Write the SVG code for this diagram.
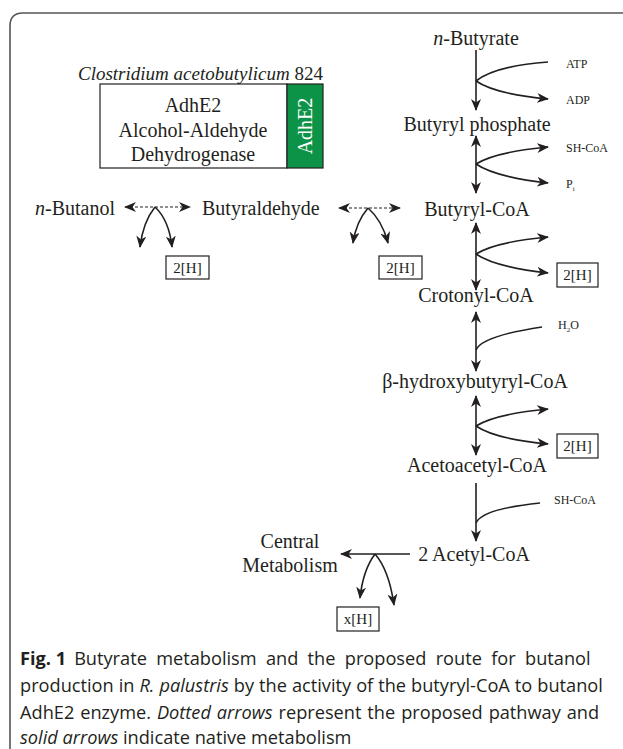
<svg xmlns="http://www.w3.org/2000/svg" width="623" height="749" viewBox="0 0 623 749">
<style>
.t{font-family:"Liberation Serif","Times New Roman",serif;fill:#231f20}
.l{font-size:20px}
.s{font-size:12px}
.c{stroke:#231f20;stroke-width:1.6;fill:none}
.d{stroke:#231f20;stroke-width:1.2;fill:none;stroke-dasharray:3 2}
.box{fill:#fff;stroke:#231f20;stroke-width:1.2}
.cap{font-family:"Open Sans","Noto Sans",sans-serif;font-size:18.2px;fill:#231f20}
</style>
<defs>
<marker id="a" viewBox="0 0 12 10" refX="11" refY="5" markerWidth="12" markerHeight="10" markerUnits="userSpaceOnUse" orient="auto-start-reverse">
<path d="M0,0 L12,5 L0,10 L3.5,5 z" fill="#231f20"/>
</marker>
</defs>
<rect width="623" height="749" fill="#fff"/>
<path d="M10,749 L10,26 Q10,13 23,13 L623,13" fill="none" stroke="#555" stroke-width="1.6"/>

<g id="enzyme">
<text class="t" font-size="19" x="78" y="80"><tspan font-style="italic">Clostridium acetobutylicum</tspan> 824</text>
<rect x="100" y="84" width="187" height="84" class="box"/>
<rect x="287" y="84" width="36" height="84" fill="#0d9347" stroke="#231f20" stroke-width="1.2"/>
<text class="t l" x="193" y="112" text-anchor="middle">AdhE2</text>
<text class="t l" x="193" y="137" text-anchor="middle">Alcohol-Aldehyde</text>
<text class="t l" x="193" y="161" text-anchor="middle">Dehydrogenase</text>
<text class="t l" x="0" y="0" text-anchor="middle" style="fill:#fff" transform="translate(312,126) rotate(-90)">AdhE2</text>
</g>

<g id="butanol"><text class="t l" x="35" y="215"><tspan font-style="italic">n</tspan>-Butanol</text></g>
<g id="butyraldehyde"><text class="t l" x="202" y="215">Butyraldehyde</text></g>
<g id="h1"><rect x="166" y="256" width="43" height="23" class="box"/><text class="t" font-size="15" x="187.5" y="273" text-anchor="middle">2[H]</text></g>
<g id="h2"><rect x="379" y="256" width="43" height="23" class="box"/><text class="t" font-size="15" x="400.5" y="273" text-anchor="middle">2[H]</text></g>

<g id="butyrate"><text class="t l" x="476" y="45" text-anchor="middle"><tspan font-style="italic">n</tspan>-Butyrate</text></g>
<g id="atp"><text class="t s" x="566" y="68">ATP</text></g>
<g id="adp"><text class="t s" x="566" y="104">ADP</text></g>
<g id="butyrylp"><text class="t l" x="477" y="131" text-anchor="middle">Butyryl phosphate</text></g>
<g id="shcoa1"><text class="t s" x="566" y="152">SH-CoA</text></g>
<g id="pi"><text class="t s" x="566" y="188">P<tspan font-size="7" dy="3">i</tspan></text></g>
<g id="butyrylcoa"><text class="t l" x="477" y="216" text-anchor="middle">Butyryl-CoA</text></g>
<g id="h3"><rect x="557" y="263" width="41" height="24" class="box"/><text class="t" font-size="15" x="577.5" y="280" text-anchor="middle">2[H]</text></g>
<g id="crotonyl"><text class="t l" x="476" y="302" text-anchor="middle">Crotonyl-CoA</text></g>
<g id="h2o"><text class="t s" x="558" y="329">H<tspan font-size="7" dy="3">2</tspan><tspan dy="-3">O</tspan></text></g>
<g id="hydroxy"><text class="t l" x="475" y="388" text-anchor="middle">β-hydroxybutyryl-CoA</text></g>
<g id="h4"><rect x="557" y="434" width="41" height="24" class="box"/><text class="t" font-size="15" x="577.5" y="451" text-anchor="middle">2[H]</text></g>
<g id="acetoacetyl"><text class="t l" x="477" y="472" text-anchor="middle">Acetoacetyl-CoA</text></g>
<g id="shcoa2"><text class="t s" x="554" y="504">SH-CoA</text></g>
<g id="acetyl"><text class="t l" x="474" y="561" text-anchor="middle">2 Acetyl-CoA</text></g>
<g id="central"><text class="t l" x="290" y="548" text-anchor="middle">Central</text><text class="t l" x="290" y="572" text-anchor="middle">Metabolism</text></g>
<g id="xh"><rect x="337" y="607" width="42" height="24" class="box"/><text class="t" font-size="15" x="358" y="624" text-anchor="middle">x[H]</text></g>

<g id="connectors">
<path class="d" d="M125,207 L190,207" marker-start="url(#a)" marker-end="url(#a)"/>
<path class="c" d="M155,207 Q143,222 140,247" marker-end="url(#a)"/>
<path class="c" d="M155,207 Q169,220 172,247" marker-end="url(#a)"/>
<path class="d" d="M339,208 L400,208" marker-start="url(#a)" marker-end="url(#a)"/>
<path class="c" d="M368,208 Q356,222 353,243" marker-end="url(#a)"/>
<path class="c" d="M368,208 Q382,220 388,243" marker-end="url(#a)"/>

<path class="c" d="M476,50 L476,110" marker-end="url(#a)"/>
<path class="c" d="M476,81 Q495,66 548,62"/>
<path class="c" d="M476,81 Q495,94 548,99" marker-end="url(#a)"/>

<path class="c" d="M476,136 L476,193" marker-start="url(#a)" marker-end="url(#a)"/>
<path class="c" d="M476,164 Q495,152 548,147" marker-end="url(#a)"/>
<path class="c" d="M476,164 Q495,177 548,183" marker-end="url(#a)"/>

<path class="c" d="M476,223 L476,290" marker-start="url(#a)" marker-end="url(#a)"/>
<path class="c" d="M476,254 Q495,242 548,237" marker-end="url(#a)"/>
<path class="c" d="M476,254 Q495,267 548,273" marker-end="url(#a)"/>

<path class="c" d="M476,312 L476,371" marker-start="url(#a)" marker-end="url(#a)"/>
<path class="c" d="M476,350 Q482,336 542,327"/>

<path class="c" d="M476,396 L476,455" marker-start="url(#a)" marker-end="url(#a)"/>
<path class="c" d="M476,426 Q495,414 548,409" marker-end="url(#a)"/>
<path class="c" d="M476,426 Q495,439 548,444" marker-end="url(#a)"/>

<path class="c" d="M476,483 L476,541" marker-end="url(#a)"/>
<path class="c" d="M476,523 Q482,509 540,503"/>

<path class="c" d="M410,554 L341,554" marker-end="url(#a)"/>
<path class="c" d="M375,554 Q363,570 360,598" marker-end="url(#a)"/>
<path class="c" d="M375,554 Q389,570 394,605" marker-end="url(#a)"/>
</g>

<g id="caption">
<text class="cap" x="20" y="665"><tspan font-weight="bold">Fig. 1</tspan><tspan dx="8" word-spacing="4.6">Butyrate metabolism and the proposed route for butanol</tspan></text>
<text class="cap" x="20" y="692" word-spacing="0.3">production in <tspan font-style="italic">R. palustris</tspan> by the activity of the butyryl-CoA to butanol</text>
<text class="cap" x="20" y="719" word-spacing="1.2">AdhE2 enzyme. <tspan font-style="italic">Dotted arrows</tspan> represent the proposed pathway and</text>
<text class="cap" x="20" y="744"><tspan font-style="italic">solid arrows</tspan> indicate native metabolism</text>
</g>
</svg>
